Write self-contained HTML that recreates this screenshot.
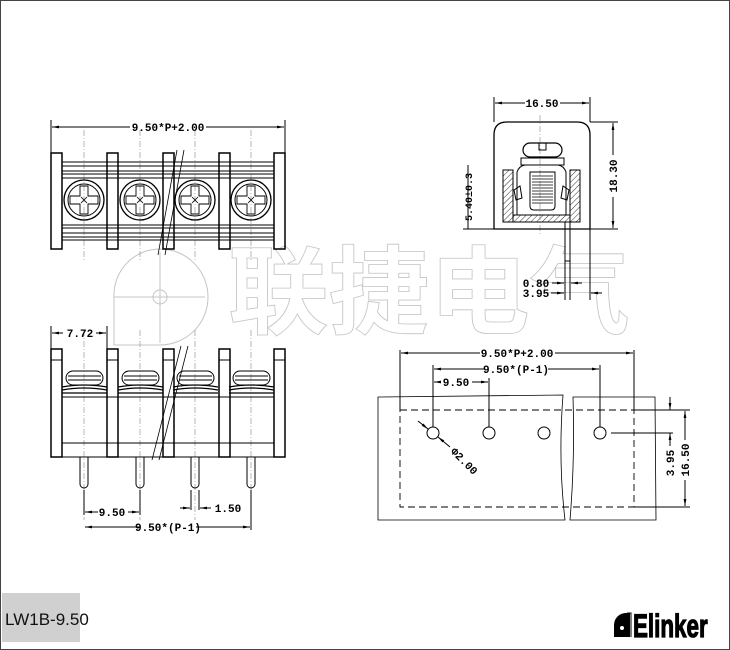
<!DOCTYPE html>
<html><head><meta charset="utf-8"><style>
html,body{margin:0;padding:0;background:#fff}
.wrap{position:relative;width:730px;height:650px;overflow:hidden}
svg{position:absolute;left:0;top:0}
</style></head><body><div class="wrap">
<svg width="730" height="650" viewBox="0 0 730 650" xmlns="http://www.w3.org/2000/svg" font-family="'Liberation Mono', monospace">
<defs>
<pattern id="h" width="4" height="4" patternUnits="userSpaceOnUse" patternTransform="rotate(45)"><line x1="0" y1="0" x2="0" y2="4" stroke="#000" stroke-width="0.8"/></pattern>
<marker id="a" viewBox="0 0 10 10" refX="10" refY="5" markerWidth="7" markerHeight="7" orient="auto-start-reverse"><path d="M0,3 L10,5 L0,7z" fill="#000"/></marker>
</defs>
<rect x="0.5" y="0.5" width="729" height="649" fill="#fff" stroke="#444"/>

<!-- watermark -->
<g stroke="#c4c4c4" fill="none" stroke-width="1">
<path d="M160,249 A48,48 0 1 1 160,345 L114,345 L114,297 A46,46 0 0 1 160,249z"/>
<line x1="160" y1="252" x2="160" y2="343"/><line x1="114" y1="297" x2="205" y2="297"/>
<circle cx="160" cy="297" r="7"/>
</g>
<text x="228" y="326" font-family="'Noto Sans CJK SC',sans-serif" font-size="96" font-weight="bold" fill="none" stroke="#c4c4c4" stroke-width="0.8" textLength="402" lengthAdjust="spacingAndGlyphs">联捷电气</text>

<g stroke="#000" fill="none" stroke-width="1">
<!-- TOP VIEW -->
<g stroke="#999" stroke-dasharray="6,2,1,2" stroke-width="0.7">
<line x1="84" y1="130" x2="84" y2="260"/><line x1="140" y1="130" x2="140" y2="260"/><line x1="195" y1="130" x2="195" y2="260"/><line x1="251" y1="130" x2="251" y2="260"/>
<line x1="84" y1="330" x2="84" y2="520"/><line x1="140" y1="330" x2="140" y2="520"/><line x1="195" y1="330" x2="195" y2="520"/><line x1="251" y1="330" x2="251" y2="520"/>
<line x1="540" y1="115" x2="540" y2="235"/>
</g>
<line x1="51" y1="120" x2="51" y2="153"/><line x1="285" y1="120" x2="285" y2="153"/>
<line x1="52" y1="127" x2="130" y2="127" marker-start="url(#a)"/><line x1="206" y1="127" x2="284" y2="127" marker-end="url(#a)"/>
<g stroke-width="1.5">
<rect x="51" y="153" width="11" height="96"/><rect x="107" y="153" width="11" height="96"/><rect x="163" y="153" width="11" height="96"/><rect x="219" y="153" width="11" height="96"/><rect x="274" y="153" width="11" height="96"/>
</g>
<path d="M62,162H274M62,166H274M62,171H274M62,174H274M62,178H274M62,225H274M62,228H274M62,233H274M62,237H274M62,240H274"/>
<g id="sc">
<circle cx="84" cy="200" r="20" stroke-width="1.3"/><circle cx="84" cy="200" r="16"/>
<path d="M80,186V196H70V204H80V214H88V204H98V196H88V186Z" stroke-width="0.9"/>
<path d="M81,197L87,203M87,197L81,203" stroke-width="0.8"/>
</g>
<use href="#sc" x="56"/><use href="#sc" x="111"/><use href="#sc" x="167"/>
<path d="M177,150L158,255M184,150L165,255" stroke-width="0.8"/>

<!-- SIDE VIEW -->
<line x1="51" y1="326" x2="51" y2="349"/><line x1="107" y1="326" x2="107" y2="349"/>
<line x1="52" y1="333" x2="63" y2="333" marker-start="url(#a)"/><line x1="96" y1="333" x2="106" y2="333" marker-end="url(#a)"/>
<g stroke-width="1.5">
<rect x="51" y="349" width="11" height="108"/><rect x="107" y="349" width="11" height="108"/><rect x="163" y="349" width="11" height="108"/><rect x="219" y="349" width="11" height="108"/><rect x="274" y="349" width="11" height="108"/>
</g>
<path d="M51,360H62M107,360H118M163,360H174M219,360H230M274,360H285"/>
<path d="M62,397H274M62,443H274M62,457H274"/>
<g id="hd">
<rect x="66" y="371" width="37" height="14" rx="7"/>
<path d="M68,376H101M68,380H101"/>
<path d="M62,387Q84,383 107,387M62,390Q84,386 107,390M62,393H107" stroke-width="1.3"/>
</g>
<use href="#hd" x="56"/><use href="#hd" x="111"/><use href="#hd" x="167"/>
<g id="pn"><path d="M80,457V484A4,4 0 0 0 88,484V457"/></g>
<use href="#pn" x="56"/><use href="#pn" x="111"/><use href="#pn" x="167"/>
<path d="M181,346L152,460M188,346L159,460" stroke-width="0.8"/>
<path d="M84,490V515M140,490V515M191,490V510M199,490V510M251,490V530"/>
<line x1="85" y1="512" x2="98" y2="512" marker-start="url(#a)"/><line x1="128" y1="512" x2="139" y2="512" marker-end="url(#a)"/>
<line x1="180" y1="508" x2="190" y2="508" marker-end="url(#a)"/><line x1="211" y1="508" x2="200" y2="508" marker-end="url(#a)"/>
<line x1="85" y1="527" x2="140" y2="527" marker-start="url(#a)"/><line x1="196" y1="527" x2="250" y2="527" marker-end="url(#a)"/>

<!-- CROSS SECTION -->
<line x1="494" y1="97" x2="494" y2="122"/><line x1="590" y1="97" x2="590" y2="122"/>
<line x1="495" y1="103" x2="525" y2="103" marker-start="url(#a)"/><line x1="560" y1="103" x2="589" y2="103" marker-end="url(#a)"/>
<path d="M494,229V135Q494,122 507,122H577Q590,122 590,135V229Z" stroke-width="1.3"/>
<path d="M590,122H618M590,229H618"/>
<line x1="613" y1="123" x2="613" y2="155" marker-start="url(#a)"/><line x1="613" y1="197" x2="613" y2="228" marker-end="url(#a)"/>
<path d="M530,143H555A7,7 0 0 1 555,157H530A7,7 0 0 1 530,143Z" stroke-width="1.2"/>
<path d="M539,143V150H546V143"/>
<path d="M521,158H564V165H521Z"/>
<rect x="503" y="170" width="10" height="52" fill="url(#h)"/><rect x="570" y="170" width="10" height="52" fill="url(#h)"/>
<rect x="513" y="215" width="57" height="7" fill="url(#h)"/>
<path d="M517,172Q519,166 525,165M566,172Q564,166 558,165M517,172V215M566,172V215"/>
<path d="M530,172H555V206Q555,210 551,210H534Q530,210 530,206Z"/>
<path d="M532,176H553M532,179H553M532,182H553M532,185H553M532,188H553M532,191H553M532,194H553M532,197H553M532,200H553M532,203H553" stroke-width="0.7"/>
<path d="M514,190L520,186L522,198L516,200ZM569,190L563,186L561,198L567,200Z"/>
<path d="M565,222H570V261H565Z"/>
<path d="M463,229H494"/><line x1="468" y1="165" x2="468" y2="229"/>
<path d="M565,261V300M570,261V300M590,229V300"/>
<line x1="552" y1="283" x2="564" y2="283" marker-end="url(#a)"/><line x1="582" y1="283" x2="571" y2="283" marker-end="url(#a)"/>
<line x1="551" y1="293" x2="564" y2="293" marker-end="url(#a)"/><line x1="602" y1="293" x2="591" y2="293" marker-end="url(#a)"/>

<!-- FOOTPRINT -->
<path d="M378,397L563,395Q558,460 565,520L378,520Z" stroke-width="0.8"/>
<path d="M573,397H655L656,520H570Q575,460 573,397Z" stroke-width="0.8"/>
<rect x="400" y="410" width="234" height="97" stroke-dasharray="7,4" stroke-width="0.9"/>
<circle cx="433" cy="433" r="6"/><circle cx="489" cy="433" r="6"/><circle cx="544" cy="433" r="6"/><circle cx="600" cy="433" r="6"/>
<path d="M400,350V410M634,350V410M433,365V427M489,378V427M600,365V427"/>
<line x1="401" y1="353" x2="480" y2="353" marker-start="url(#a)"/><line x1="555" y1="353" x2="633" y2="353" marker-end="url(#a)"/>
<line x1="434" y1="369" x2="484" y2="369" marker-start="url(#a)"/><line x1="548" y1="369" x2="599" y2="369" marker-end="url(#a)"/>
<line x1="434" y1="382" x2="440" y2="382" marker-start="url(#a)"/><line x1="472" y1="382" x2="488" y2="382" marker-end="url(#a)"/>
<line x1="418" y1="421" x2="428" y2="429" marker-end="url(#a)"/><line x1="450" y1="447" x2="438" y2="437" marker-end="url(#a)"/>
<path d="M611,433H673M634,410H690M634,507H690"/>
<line x1="670" y1="397" x2="670" y2="410" marker-end="url(#a)"/><line x1="670" y1="446" x2="670" y2="433" marker-end="url(#a)"/>
<line x1="685" y1="411" x2="685" y2="440" marker-start="url(#a)"/><line x1="685" y1="480" x2="685" y2="506" marker-end="url(#a)"/>
</g>

<g font-size="11" font-weight="bold" fill="#000">
<text x="168" y="131" text-anchor="middle">9.50*P+2.00</text>
<text x="80" y="337" text-anchor="middle">7.72</text>
<text x="112" y="516" text-anchor="middle">9.50</text>
<text x="228" y="512" text-anchor="middle">1.50</text>
<text x="168" y="531" text-anchor="middle">9.50*(P-1)</text>
<text x="542" y="107" text-anchor="middle">16.50</text>
<text transform="translate(617,176) rotate(-90)" text-anchor="middle">18.30</text>
<text transform="translate(472,197) rotate(-90)" text-anchor="middle" font-size="10">5.40±0.3</text>
<text x="536" y="287" text-anchor="middle">0.80</text>
<text x="536" y="297" text-anchor="middle">3.95</text>
<text x="517" y="357" text-anchor="middle">9.50*P+2.00</text>
<text x="516" y="373" text-anchor="middle">9.50*(P-1)</text>
<text x="456" y="386" text-anchor="middle">9.50</text>
<text transform="translate(450,452) rotate(45)">Φ2.00</text>
<text transform="translate(674,463) rotate(-90)" text-anchor="middle">3.95</text>
<text transform="translate(689,460) rotate(-90)" text-anchor="middle">16.50</text>
</g>

<rect x="2" y="593" width="78" height="49" fill="#d0d0d0"/>
<text x="5" y="625" font-family="'Liberation Sans',sans-serif" font-size="17" fill="#111">LW1B-9.50</text>

<path d="M614,637V625A12,12 0 0 1 626,613H630V637Z" fill="#000"/>
<path d="M627,613H631V637" fill="none" stroke="#000" stroke-width="1"/>
<circle cx="622" cy="628" r="2" fill="#fff"/>
<text x="0" y="0" transform="translate(633,637) scale(0.7,1)" font-family="'Liberation Sans',sans-serif" font-weight="bold" font-size="32" fill="#000" stroke="#000" stroke-width="1.2">Elinker</text>
</svg>
</div></body></html>
